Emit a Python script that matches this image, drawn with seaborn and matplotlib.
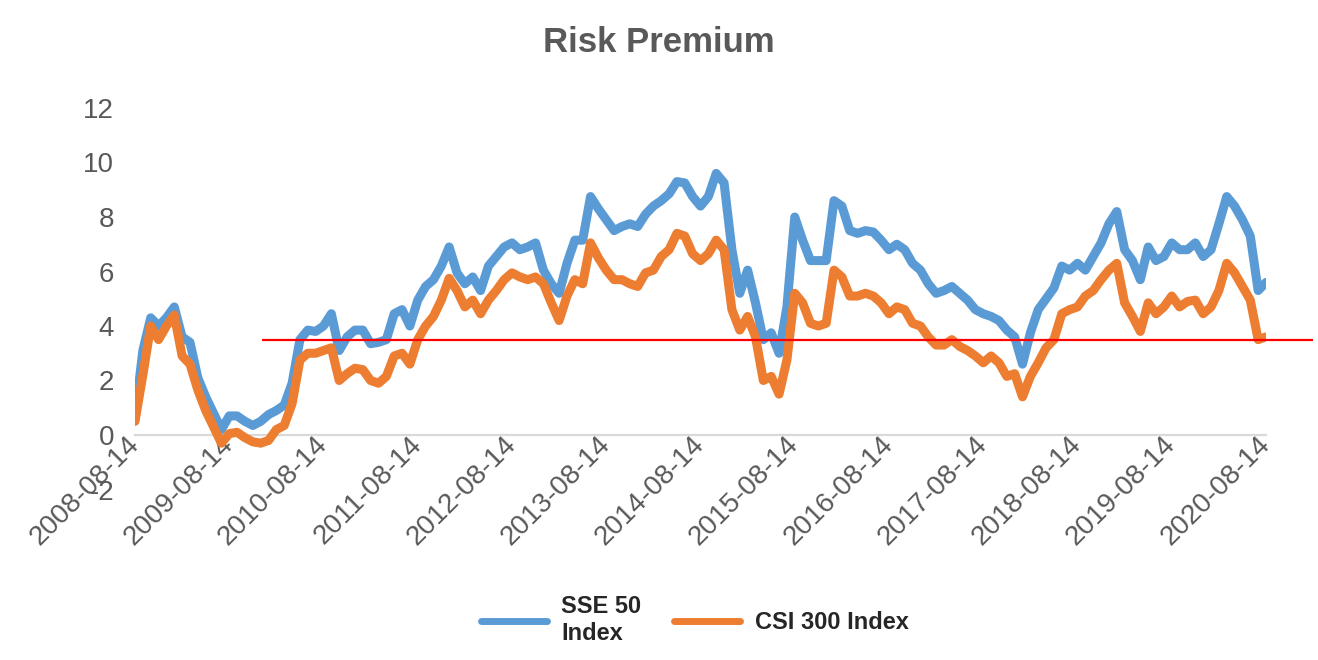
import matplotlib
matplotlib.use("Agg")
import matplotlib.pyplot as plt
import numpy as np
import pandas as pd
import seaborn as sns

# ---- data (monthly readings, month 0 = 2008-08-14) ----
month_index = list(range(145))
sse50 = [0.7, 3.1, 4.3, 4.0, 4.3, 4.7, 3.6, 3.4, 2.1, 1.4,
         0.8, 0.2, 0.7, 0.7, 0.5, 0.35, 0.5, 0.75, 0.9, 1.1,
         1.9, 3.5, 3.85, 3.8, 4.0, 4.45, 3.1, 3.6, 3.85, 3.85,
         3.35, 3.4, 3.5, 4.45, 4.6, 4.0, 4.95, 5.45, 5.7, 6.2,
         6.9, 5.95, 5.55, 5.8, 5.3, 6.2, 6.55, 6.9, 7.05, 6.8,
         6.9, 7.05, 6.05, 5.55, 5.2, 6.3, 7.15, 7.15, 8.75, 8.3,
         7.9, 7.5, 7.65, 7.75, 7.65, 8.1, 8.4, 8.6, 8.85, 9.3,
         9.25, 8.75, 8.4, 8.75, 9.6, 9.25, 6.8, 5.2, 6.05, 4.85,
         3.5, 3.75, 3.0, 4.7, 8.0, 7.15, 6.4, 6.4, 6.4, 8.6,
         8.4, 7.5, 7.4, 7.5, 7.45, 7.15, 6.8, 7.0, 6.8, 6.3,
         6.05, 5.55, 5.2, 5.3, 5.45, 5.2, 4.95, 4.6, 4.45, 4.35,
         4.2, 3.85, 3.6, 2.6, 3.75, 4.6, 5.0, 5.4, 6.2, 6.05,
         6.3, 6.05, 6.55, 7.05, 7.75, 8.2, 6.8, 6.4, 5.7, 6.9,
         6.4, 6.55, 7.05, 6.8, 6.8, 7.05, 6.55, 6.8, 7.75, 8.75,
         8.4, 7.9, 7.3, 5.3, 5.6]
csi300 = [0.5, 2.2, 4.0, 3.5, 4.0, 4.4, 2.9, 2.6, 1.65, 0.9,
          0.3, -0.3, 0.05, 0.1, -0.1, -0.25, -0.3, -0.2, 0.2, 0.35,
          1.15, 2.75, 3.0, 3.0, 3.1, 3.2, 2.0, 2.25, 2.45, 2.4,
          2.0, 1.9, 2.15, 2.9, 3.0, 2.6, 3.5, 4.0, 4.35, 4.95,
          5.75, 5.3, 4.7, 4.95, 4.45, 4.95, 5.3, 5.7, 5.95, 5.8,
          5.7, 5.8, 5.55, 4.85, 4.2, 5.1, 5.7, 5.55, 7.05, 6.5,
          6.05, 5.7, 5.7, 5.55, 5.45, 5.95, 6.05, 6.55, 6.8, 7.4,
          7.3, 6.65, 6.4, 6.65, 7.15, 6.8, 4.6, 3.85, 4.35, 3.6,
          2.0, 2.15, 1.5, 2.75, 5.2, 4.85, 4.1, 4.0, 4.1, 6.05,
          5.8, 5.1, 5.1, 5.2, 5.1, 4.85, 4.45, 4.7, 4.6, 4.1,
          4.0, 3.6, 3.3, 3.3, 3.5, 3.25, 3.1, 2.9, 2.65, 2.9,
          2.65, 2.15, 2.25, 1.4, 2.15, 2.65, 3.2, 3.5, 4.45, 4.6,
          4.7, 5.1, 5.3, 5.7, 6.05, 6.3, 4.85, 4.35, 3.8, 4.85,
          4.45, 4.7, 5.1, 4.7, 4.9, 4.95, 4.45, 4.7, 5.3, 6.3,
          5.95, 5.45, 4.95, 3.5, 3.6]
series_names = ["SSE 50\nIndex", "CSI 300 Index"]
tick_months = [0, 12, 24, 36, 48, 60, 72, 84, 96, 108, 120, 132, 144]
tick_labels = ["2008-08-14", "2009-08-14", "2010-08-14", "2011-08-14",
               "2012-08-14", "2013-08-14", "2014-08-14", "2015-08-14",
               "2016-08-14", "2017-08-14", "2018-08-14", "2019-08-14",
               "2020-08-14"]
y_ticks = [-2, 0, 2, 4, 6, 8, 10, 12]
y_tick_labels = ["-2", "0", "2", "4", "6", "8", "10", "12"]
risk_line_value = 3.5
risk_line_span = [16.2, 150.0]

# ---- style ----
sns.set_style("white")
plt.rcParams['font.family'] = ['Liberation Sans', 'DejaVu Sans']

BLUE = "#5B9BD5"
ORANGE = "#ED7D31"
GREY = "#595959"

df = pd.DataFrame({
    "month": month_index + month_index,
    "value": sse50 + csi300,
    "series": [series_names[0]] * len(sse50) + [series_names[1]] * len(csi300),
})

fig = plt.figure(figsize=(13.18, 6.6), dpi=100)
ax = fig.add_axes([135 / 1318, 1 - 489.5 / 660, (1266 - 135) / 1318, (489.5 - 108) / 660])

sns.lineplot(data=df, x="month", y="value", hue="series", hue_order=series_names,
             palette=[BLUE, ORANGE], linewidth=6.5, ax=ax, legend=True,
             solid_joinstyle="round", solid_capstyle="round")

ax.hlines(risk_line_value, risk_line_span[0], risk_line_span[1], colors="#FF0000",
          linewidth=1.6, clip_on=False, zorder=5)

for s in ["left", "top", "right"]:
    ax.spines[s].set_visible(False)
ax.spines["bottom"].set_position(("data", 0))
ax.spines["bottom"].set_color("#D9D9D9")
ax.spines["bottom"].set_linewidth(1.6)
ax.spines["bottom"].set_zorder(0.5)

ax.set_xlim(tick_months[0], tick_months[-1])
ax.set_ylim(y_ticks[0], y_ticks[-1])
ax.set_yticks(y_ticks)
ax.set_yticklabels(y_tick_labels)
ax.set_xticks(tick_months)
ax.set_xticklabels(tick_labels)
ax.set_xlabel("")
ax.set_ylabel("")

ax.tick_params(axis="both", length=0, labelsize=20, labelcolor=GREY)
ax.tick_params(axis="y", pad=15)
ax.tick_params(axis="x", pad=4)
for lab in ax.get_xticklabels():
    lab.set_rotation(45)
    lab.set_ha("right")
    lab.set_va("center")
    lab.set_rotation_mode("anchor")

fig.text(0.5, 1 - 42 / 660, "Risk Premium", ha="center", va="center",
         fontsize=25, fontweight="bold", color=GREY)

handles, labels = ax.get_legend_handles_labels()
ax.get_legend().remove()
for h in handles:
    h.set_linewidth(5)
fig.legend(handles, labels, loc="center", bbox_to_anchor=(0.527, 1 - 620 / 660),
           ncol=2, frameon=False, prop={"weight": "bold", "size": 17},
           handlelength=2.8, handletextpad=0.6, columnspacing=1.4)

fig.savefig("out.png", dpi=100)
